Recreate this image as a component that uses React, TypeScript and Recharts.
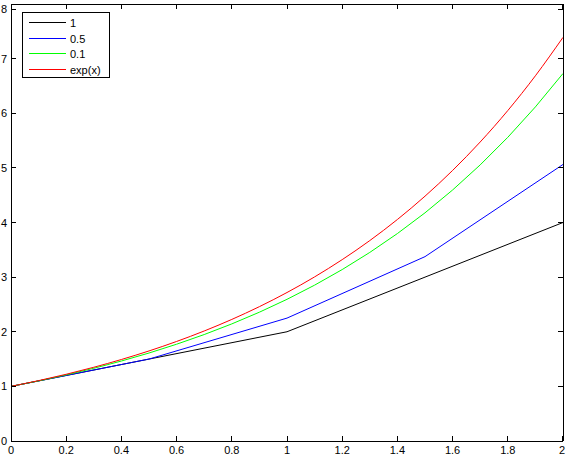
import { LineChart, Line, XAxis, YAxis } from 'recharts';

// Euler steps h = 1, 0.5, 0.1 against exp(x)
const xStep1 = [0, 1, 2];
const yStep1 = [1, 2, 4];

const xStep05 = [0, 0.5, 1, 1.5, 2];
const yStep05 = [1, 1.5, 2.25, 3.375, 5.0625];

const xStep01 = [0, 0.1, 0.2, 0.3, 0.4, 0.5, 0.6, 0.7, 0.8, 0.9, 1, 1.1, 1.2, 1.3, 1.4, 1.5, 1.6, 1.7, 1.8, 1.9, 2];
const yStep01 = [1, 1.1, 1.21, 1.331, 1.4641, 1.6105, 1.7716, 1.9487, 2.1436, 2.3579, 2.5937, 2.8531, 3.1384, 3.4523, 3.7975, 4.1772, 4.595, 5.0545, 5.5599, 6.1159, 6.7275];

const xExp = [0, 0.1, 0.2, 0.3, 0.4, 0.5, 0.6, 0.7, 0.8, 0.9, 1, 1.1, 1.2, 1.3, 1.4, 1.5, 1.6, 1.7, 1.8, 1.9, 2];
const yExp = [1, 1.1052, 1.2214, 1.3499, 1.4918, 1.6487, 1.8221, 2.0138, 2.2255, 2.4596, 2.7183, 3.0042, 3.3201, 3.6693, 4.0552, 4.4817, 4.953, 5.4739, 6.0496, 6.6859, 7.3891];

const xTicks = [0, 0.2, 0.4, 0.6, 0.8, 1, 1.2, 1.4, 1.6, 1.8, 2];
const yTicks = [0, 1, 2, 3, 4, 5, 6, 7, 8];

const legendItems = [
  { name: '1', color: '#000000' },
  { name: '0.5', color: '#0000ff' },
  { name: '0.1', color: '#00ff00' },
  { name: 'exp(x)', color: '#ff0000' },
];

const toPoints = (xs: number[], ys: number[]) => xs.map((x, i) => ({ x, y: ys[i] }));

const FONT = 'Liberation Sans, Arial, Helvetica, sans-serif';
const TICK_LEN = 5;

function BottomTick(props: any) {
  const { x, y, payload } = props;
  return (
    <g>
      <line x1={x} y1={y} x2={x} y2={y - TICK_LEN} stroke="#000" shapeRendering="crispEdges" />
      <text x={x} y={y + 13} textAnchor="middle" fontSize={11} fontFamily={FONT} fill="#000">
        {payload.value}
      </text>
    </g>
  );
}

function TopTick(props: any) {
  const { x, y } = props;
  return <line x1={x} y1={y} x2={x} y2={y + TICK_LEN} stroke="#000" shapeRendering="crispEdges" />;
}

function LeftTick(props: any) {
  const { x, y, payload } = props;
  return (
    <g>
      <line x1={x} y1={y} x2={x + TICK_LEN} y2={y} stroke="#000" shapeRendering="crispEdges" />
      <text x={x - 4} y={y + 4} textAnchor="end" fontSize={11} fontFamily={FONT} fill="#000">
        {payload.value}
      </text>
    </g>
  );
}

function RightTick(props: any) {
  const { x, y } = props;
  return <line x1={x} y1={y} x2={x - TICK_LEN} y2={y} stroke="#000" shapeRendering="crispEdges" />;
}

function LegendBox() {
  return (
    <svg
      width={88}
      height={66}
      style={{ position: 'absolute', left: 22, top: 12, background: '#fff' }}
    >
      <rect x={0.5} y={0.5} width={87} height={65} fill="#fff" stroke="#000" />
      {legendItems.map((item, i) => {
        const cy = 10.5 + Math.round(i * 15.5);
        return (
          <g key={item.name}>
            <line x1={7} y1={cy} x2={44} y2={cy} stroke={item.color} strokeWidth={1} />
            <text x={48} y={cy + 4} fontSize={11} fontFamily={FONT} fill="#000">
              {item.name}
            </text>
          </g>
        );
      })}
    </svg>
  );
}

const axisLine = { stroke: '#000', shapeRendering: 'crispEdges' };

export default function App() {
  return (
    <div style={{ position: 'absolute', left: 0, top: 0, width: 566, height: 456, background: '#fff' }}>
      <LineChart width={566} height={456} margin={{ top: 3, right: 2, left: 0, bottom: 0 }}>
        <XAxis
          xAxisId="bottom"
          type="number"
          dataKey="x"
          domain={[0, 2]}
          ticks={xTicks}
          orientation="bottom"
          height={15}
          tickSize={0}
          tickMargin={0}
          tickLine={false}
          tick={<BottomTick />}
          axisLine={axisLine}
          allowDataOverflow
        />
        <XAxis
          xAxisId="top"
          type="number"
          dataKey="x"
          domain={[0, 2]}
          ticks={xTicks}
          orientation="top"
          height={1}
          tickSize={0}
          tickMargin={0}
          tickLine={false}
          tick={<TopTick />}
          axisLine={axisLine}
          allowDataOverflow
        />
        <YAxis
          yAxisId="left"
          type="number"
          domain={[0, 8]}
          ticks={yTicks}
          orientation="left"
          width={11}
          tickSize={0}
          tickMargin={0}
          tickLine={false}
          tick={<LeftTick />}
          axisLine={axisLine}
          allowDataOverflow
        />
        <YAxis
          yAxisId="right"
          type="number"
          domain={[0, 8]}
          ticks={yTicks}
          orientation="right"
          width={1}
          tickSize={0}
          tickMargin={0}
          tickLine={false}
          tick={<RightTick />}
          axisLine={axisLine}
          allowDataOverflow
        />
        {/* invisible copy so the mirrored top/right axes get drawn */}
        <Line xAxisId="top" yAxisId="right" data={toPoints(xStep1, yStep1)} dataKey="y" stroke="none" dot={false} activeDot={false} isAnimationActive={false} legendType="none" />
        <Line xAxisId="bottom" yAxisId="left" data={toPoints(xStep1, yStep1)} dataKey="y" stroke="#000000" strokeWidth={1} dot={false} isAnimationActive={false} />
        <Line xAxisId="bottom" yAxisId="left" data={toPoints(xStep05, yStep05)} dataKey="y" stroke="#0000ff" strokeWidth={1} dot={false} isAnimationActive={false} />
        <Line xAxisId="bottom" yAxisId="left" data={toPoints(xStep01, yStep01)} dataKey="y" stroke="#00ff00" strokeWidth={1} dot={false} isAnimationActive={false} />
        <Line xAxisId="bottom" yAxisId="left" type="monotone" data={toPoints(xExp, yExp)} dataKey="y" stroke="#ff0000" strokeWidth={1} dot={false} isAnimationActive={false} />
      </LineChart>
      <LegendBox />
    </div>
  );
}
